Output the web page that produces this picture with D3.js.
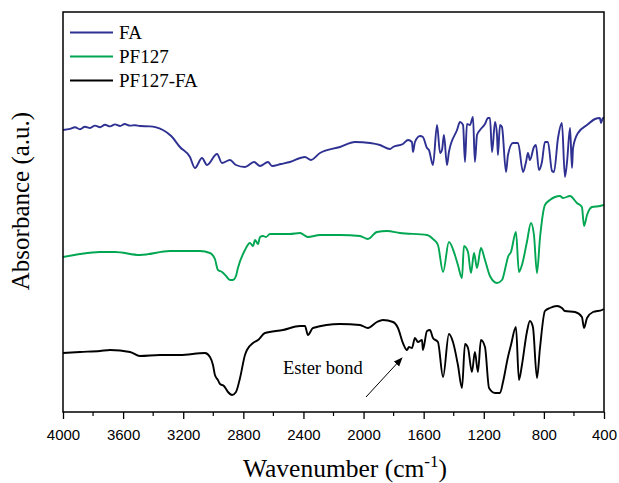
<!DOCTYPE html>
<html><head><meta charset="utf-8">
<script src="https://cdn.jsdelivr.net/npm/d3@7/dist/d3.min.js"></script>
<style>body{margin:0;background:#fff}</style>
</head><body><svg id="c" width="619" height="483"></svg>
<script>
// wavenumber (cm-1) and absorbance (a.u., arbitrary offset units)
const faWn = [4000,3953,3920,3887,3854,3820,3787,3754,3720,3687,3654,3620,3590,3554,3520,3488,3421,3385,3335,3280,3222,3155,3122,3075,3042,2975,2942,2889,2849,2789,2729,2689,2636,2609,2550,2490,2390,2350,2290,2157,2057,1957,1891,1824,1804,1738,1704,1678,1671,1658,1624,1605,1578,1565,1538,1511,1491,1478,1465,1445,1432,1378,1358,1338,1325,1312,1292,1272,1259,1245,1225,1192,1172,1159,1145,1125,1112,1106,1092,1079,1052,1039,1006,972,939,919,906,893,866,853,833,813,793,773,746,733,706,680,660,646,626,613,606,573,513,460,427,420,407,400];
const faAbs = [70.5,70.8,71.2,70.7,71.3,71.0,71.6,71.2,71.8,71.4,71.9,71.5,72.0,71.6,71.7,71.5,71.4,71.2,70.5,69.0,66.25,63.75,61,63.5,61.75,64.5,62.25,63,61.75,61.25,62.5,61.5,62.5,61.5,62.0,62.5,63.75,63,64.75,66.25,67.5,67.25,66.75,65.75,66.25,67,68,67.5,65,67.5,69,68.75,66,65.5,61.75,71.75,64.75,65.5,69.25,61.75,65,70.5,72.5,71.75,62.5,72,71.75,73.75,62.5,69.25,70.5,72,73.5,73.5,65,72.5,69.25,64.25,71.75,71.25,60,64.25,67.25,67.25,60,62.5,64.75,63,66.25,66.75,60.5,62.5,67.5,67.5,60.25,60,68.5,72.25,58.75,62.5,71,61,66,69.75,71.75,73.25,73.5,72.25,73.5,73.5];

const pfWn = [4000,3887,3754,3654,3488,3288,3088,3022,2989,2969,2942,2915,2889,2869,2849,2836,2789,2756,2736,2722,2702,2689,2669,2649,2623,2490,2423,2370,2290,2157,2024,1971,1911,1844,1758,1578,1538,1505,1471,1432,1392,1372,1345,1332,1305,1285,1265,1245,1219,1192,1159,1112,1079,1052,1039,1019,986,966,946,913,886,866,846,826,793,760,693,673,626,580,547,533,513,480,427,400];
const pfAbs = [38.75,39.5,40,40,39.25,40.25,40.25,39.75,38.25,35.5,35,34,33,33,34,36,40.5,42.25,41.5,43,42,43.75,44,43.75,44.5,44.5,44.75,43.75,44.25,44.25,44,43.25,45,45.25,44.75,44.25,43.25,41.75,35,42.5,39.25,36.75,33.5,41.5,40,34.75,39.75,36,41,38,34,32.25,33,36.75,38.75,40,45,35,36.75,42.5,47.25,44.25,34.75,43.5,51.75,53,54,53.5,54,52.25,51.25,46.5,49.25,51.25,51.5,51.75];

const pffaWn = [4000,3887,3754,3687,3554,3488,3355,3222,3055,3022,3002,2989,2969,2955,2929,2902,2875,2849,2822,2789,2776,2736,2702,2656,2536,2423,2390,2370,2337,2157,2024,1971,1911,1871,1804,1771,1738,1711,1698,1678,1658,1638,1611,1605,1578,1558,1538,1505,1471,1432,1405,1372,1345,1325,1305,1279,1259,1239,1219,1192,1165,1125,1092,1072,1039,1019,986,966,946,913,893,873,846,826,793,760,713,680,660,593,547,533,513,473,413,400];
const pffaAbs = [14.75,15,15.25,15.5,15,14,14.25,14.25,14.75,13.75,11.75,9.25,8,7,6.5,5,4.25,5,8.5,14.25,15.5,17.25,18,19.75,20.5,21.5,21.5,19.25,21,22,21.75,21,22.5,23,22.5,21,17.25,15.5,16.25,16,18.5,17.5,18,15.5,20.25,20.5,18.5,17.5,8.75,19.5,17.5,11.75,6,17,16,10,15,10,18,16.25,6,4.75,4.75,7.5,13.75,16.75,21.25,8,11.75,20,22.75,21.25,8.5,16,25.25,26,26.5,26,25.25,25,23.75,21,23.5,25,25.5,25.75];

const seriesNames = ["FA","PF127","PF127-FA"];
const seriesColors = ["#2e3192","#00a651","#000000"];
const xTicks = [4000,3600,3200,2800,2400,2000,1600,1200,800,400];

const svg = d3.select("#c");
const L=63, R=604, T=12, B=412;
const x = d3.scaleLinear().domain([4000,400]).range([L,R]);
const y = d3.scaleLinear().domain([0,100]).range([B,T]);
const serif = "Liberation Serif, Times New Roman, serif";

const series = [
  {name:seriesNames[0], color:seriesColors[0], wn:faWn, v:faAbs},
  {name:seriesNames[1], color:seriesColors[1], wn:pfWn, v:pfAbs},
  {name:seriesNames[2], color:seriesColors[2], wn:pffaWn, v:pffaAbs}
];
const line = d3.line().x(d=>x(d[0])).y(d=>y(d[1])).curve(d3.curveMonotoneX);
series.forEach(s=>{
  svg.append("path").attr("d", line(s.wn.map((w,i)=>[w,s.v[i]])))
    .attr("fill","none").attr("stroke",s.color).attr("stroke-width",1.9)
    .attr("stroke-linejoin","round");
});

// frame
svg.append("rect").attr("x",L).attr("y",T).attr("width",R-L).attr("height",B-T)
  .attr("fill","none").attr("stroke","#000").attr("stroke-width",1.5);

// bottom axis
const ax = svg.append("g").attr("transform",`translate(0,${B})`);
ax.call(d3.axisBottom(x).tickValues(xTicks).tickSize(7).tickPadding(10).tickFormat(d3.format("d")));
ax.select(".domain").remove();
ax.selectAll("line").attr("stroke-width",1.3);
ax.selectAll("text").attr("font-family","Liberation Sans, Arial, sans-serif").attr("font-size",15).attr("fill","#000");
const minor = d3.range(3800,400,-400);
ax.selectAll(".minor").data(minor).enter().append("line")
  .attr("x1",d=>x(d)).attr("x2",d=>x(d)).attr("y1",0).attr("y2",4)
  .attr("stroke","#000").attr("stroke-width",1.2);

// titles
const xt = svg.append("text").attr("x",345).attr("y",477).attr("text-anchor","middle")
  .attr("font-family",serif).attr("font-size",25.5);
xt.append("tspan").text("Wavenumber (cm");
xt.append("tspan").attr("dy",-10).attr("font-size",17).text("-1");
xt.append("tspan").attr("dy",10).text(")");

svg.append("text").attr("transform","translate(29,201) rotate(-90)").attr("text-anchor","middle")
  .attr("font-family",serif).attr("font-size",25)
  .text("Absorbance (a.u.)");

// legend
series.forEach((s,i)=>{
  const ly = 32.5 + i*24;
  svg.append("line").attr("x1",70).attr("x2",113).attr("y1",ly).attr("y2",ly)
    .attr("stroke",s.color).attr("stroke-width",1.9);
  svg.append("text").attr("x",119).attr("y",ly+6).attr("font-family",serif)
    .attr("font-size",19).text(s.name);
});

// annotation
svg.append("defs").append("marker").attr("id","ah").attr("viewBox","0 0 10 10")
  .attr("refX",9).attr("refY",5).attr("markerWidth",9).attr("markerHeight",9).attr("orient","auto")
  .attr("markerUnits","userSpaceOnUse")
  .append("path").attr("d","M0,1 L10,5 L0,9 Z").attr("fill","#000");
svg.append("line").attr("x1",366).attr("y1",397).attr("x2",402).attr("y2",358)
  .attr("stroke","#000").attr("stroke-width",1).attr("marker-end","url(#ah)");
svg.append("text").attr("x",283).attr("y",374).attr("font-family",serif)
  .attr("font-size",18.5).text("Ester bond");
</script></body></html>
